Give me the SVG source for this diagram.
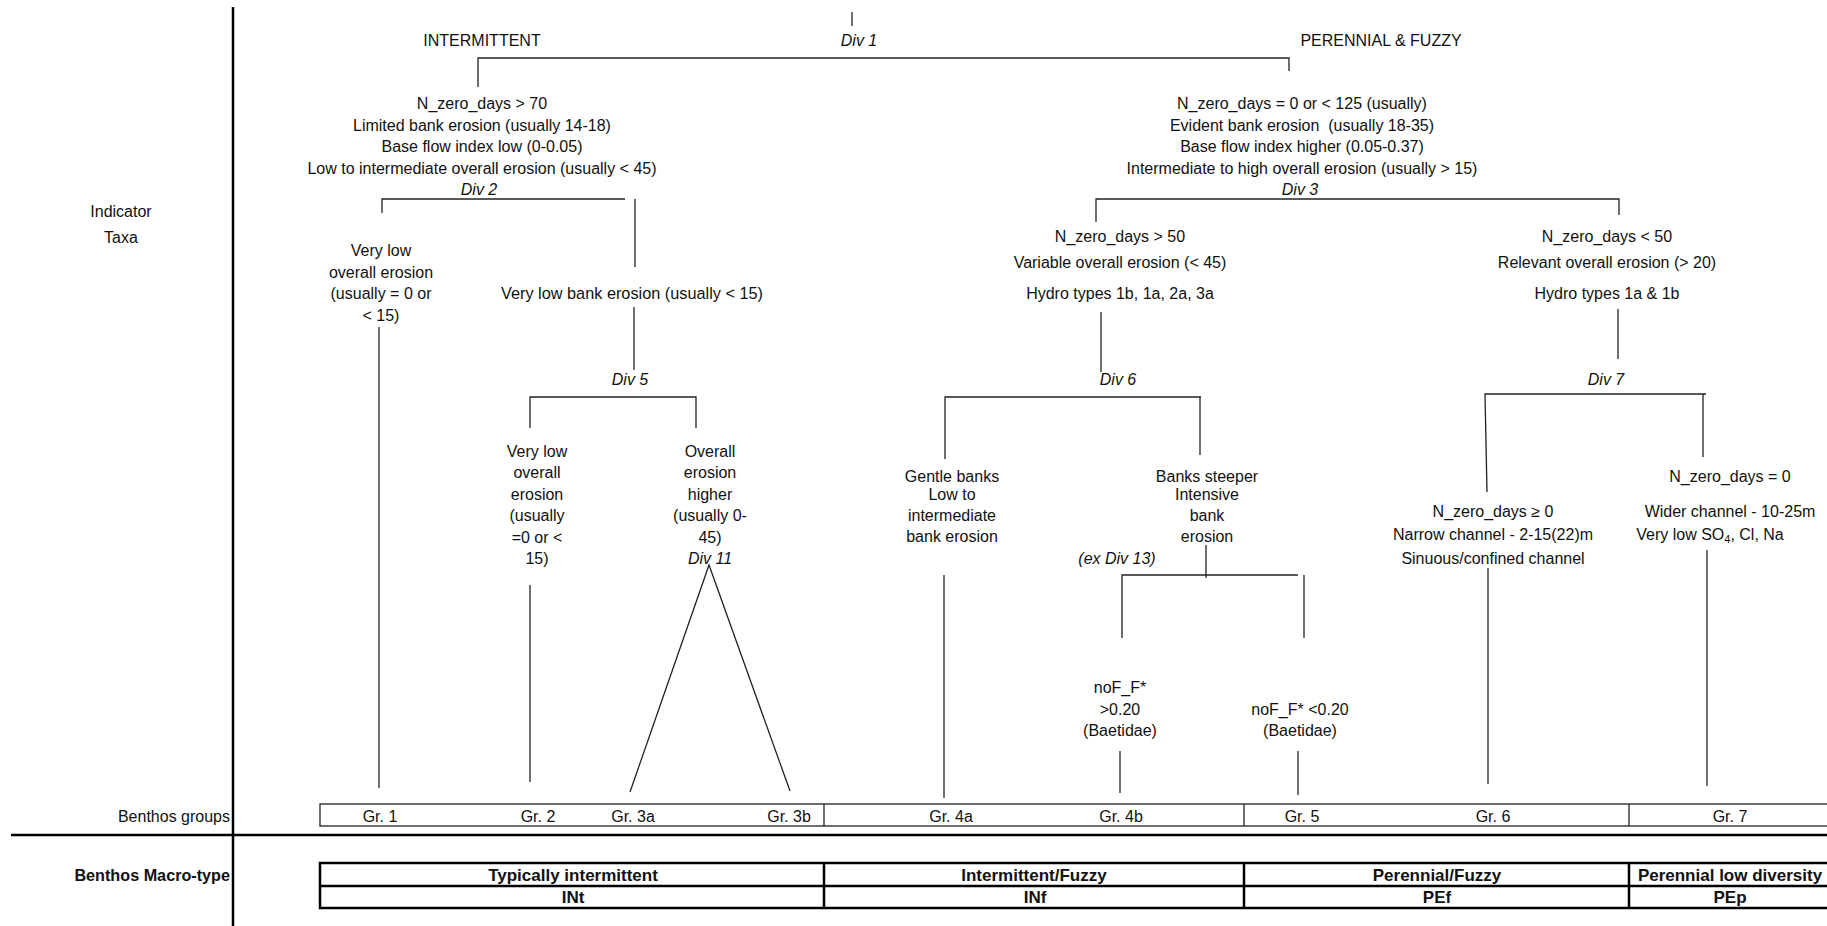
<svg xmlns="http://www.w3.org/2000/svg" width="1827" height="926" viewBox="0 0 1827 926">
<style>
text{font-family:"Liberation Sans",Arial,sans-serif;font-size:16px;fill:#111;text-anchor:middle}
.i{font-style:italic}
.b{font-weight:bold;font-size:17px}
.e{text-anchor:end}
.c{fill:none;stroke:#222;stroke-width:1.3}
.frame{fill:none;stroke:#000;stroke-width:2.5}
.box{fill:none;stroke:#222;stroke-width:1.3}
.tbl{fill:none;stroke:#000;stroke-width:2.5}
</style>
<rect width="1827" height="926" fill="#fff"/>
<g id="frame">
<path class="frame" d="M233,7V926" stroke-width="2"/>
<path class="frame" d="M11,835H1827"/>
</g>
<g id="labels">
<text x="121" y="217">Indicator</text>
<text x="121" y="242.5">Taxa</text>
<text class="e" x="230" y="821.5">Benthos groups</text>
<text class="b e" x="230" y="881" style="font-size:16.2px">Benthos Macro-type</text>
</g>
<g id="connectors">
<path class="c" d="M852,12V26"/>
<path class="c" d="M478,87V58H1289V71"/>
<path class="c" d="M382,213V199H625"/>
<path class="c" d="M635,199V267"/>
<path class="c" d="M379,327V788"/>
<path class="c" d="M634,307V370"/>
<path class="c" d="M530,428V397H696V428"/>
<path class="c" d="M530,585V782"/>
<path class="c" d="M630,792L709,565L790,791"/>
<path class="c" d="M1096,222V199H1619V215"/>
<path class="c" d="M1101,312V372"/>
<path class="c" d="M945,459V397H1201"/>
<path class="c" d="M1200,397V455"/>
<path class="c" d="M944,575V798"/>
<path class="c" d="M1206,545V578"/>
<path class="c" d="M1122,638V575H1298"/>
<path class="c" d="M1304,575V638"/>
<path class="c" d="M1120,751V793"/>
<path class="c" d="M1298,751V795"/>
<path class="c" d="M1618,309V359"/>
<path class="c" d="M1487,492L1485,394H1706"/>
<path class="c" d="M1703,394V457"/>
<path class="c" d="M1488,568V784"/>
<path class="c" d="M1707,550V786"/>
</g>
<g id="div1">
<text x="482" y="45.5">INTERMITTENT</text>
<text class="i" x="859" y="45.5">Div 1</text>
<text x="1381" y="45.5">PERENNIAL &amp; FUZZY</text>
</g>
<g id="div2">
<text x="482" y="109">N_zero_days &gt; 70</text>
<text x="482" y="130.5">Limited bank erosion (usually 14-18)</text>
<text x="482" y="152">Base flow index low (0-0.05)</text>
<text x="482" y="173.5">Low to intermediate overall erosion (usually &lt; 45)</text>
<text class="i" x="479" y="195">Div 2</text>
</g>
<g id="div3">
<text x="1302" y="109">N_zero_days = 0 or &lt; 125 (usually)</text>
<text x="1302" y="130.5" xml:space="preserve">Evident bank erosion  (usually 18-35)</text>
<text x="1302" y="152">Base flow index higher (0.05-0.37)</text>
<text x="1302" y="173.5">Intermediate to high overall erosion (usually &gt; 15)</text>
<text class="i" x="1300" y="195">Div 3</text>
</g>
<g id="very-low-overall">
<text x="381" y="255.5">Very low</text>
<text x="381" y="277.5">overall erosion</text>
<text x="381" y="298.5">(usually = 0 or</text>
<text x="381" y="320.5">&lt; 15)</text>
</g>
<g id="very-low-bank">
<text x="632" y="298.5" style="font-size:16.3px">Very low bank erosion (usually &lt; 15)</text>
<text class="i" x="630" y="384.5">Div 5</text>
</g>
<g id="div6-node">
<text x="1120" y="241.5">N_zero_days &gt; 50</text>
<text x="1120" y="267.5">Variable overall erosion (&lt; 45)</text>
<text x="1120" y="298.5">Hydro types 1b, 1a, 2a, 3a</text>
<text class="i" x="1118" y="384.5">Div 6</text>
</g>
<g id="div7-node">
<text x="1607" y="241.5">N_zero_days &lt; 50</text>
<text x="1607" y="267.5">Relevant overall erosion (&gt; 20)</text>
<text x="1607" y="298.5">Hydro types 1a &amp; 1b</text>
<text class="i" x="1606" y="384.5">Div 7</text>
</g>
<g id="gr2-node">
<text x="537" y="456.5">Very low</text>
<text x="537" y="478">overall</text>
<text x="537" y="499.5">erosion</text>
<text x="537" y="521">(usually</text>
<text x="537" y="542.5">=0 or &lt;</text>
<text x="537" y="563.5">15)</text>
</g>
<g id="div11-node">
<text x="710" y="456.5">Overall</text>
<text x="710" y="478">erosion</text>
<text x="710" y="499.5">higher</text>
<text x="710" y="521">(usually 0-</text>
<text x="710" y="542.5">45)</text>
<text class="i" x="710" y="563.5">Div 11</text>
</g>
<g id="gentle-banks">
<text x="952" y="482">Gentle banks</text>
<text x="952" y="499.5">Low to</text>
<text x="952" y="521">intermediate</text>
<text x="952" y="542">bank erosion</text>
</g>
<g id="banks-steeper">
<text x="1207" y="482">Banks steeper</text>
<text x="1207" y="499.5">Intensive</text>
<text x="1207" y="521">bank</text>
<text x="1207" y="542">erosion</text>
<text class="i" x="1117" y="563.5">(ex Div 13)</text>
</g>
<g id="nof-high">
<text x="1120" y="693">noF_F*</text>
<text x="1120" y="714.5">&gt;0.20</text>
<text x="1120" y="736">(Baetidae)</text>
</g>
<g id="nof-low">
<text x="1300" y="714.5">noF_F* &lt;0.20</text>
<text x="1300" y="736">(Baetidae)</text>
</g>
<g id="gr6-node">
<text x="1493" y="516.5">N_zero_days ≥ 0</text>
<text x="1493" y="539.5">Narrow channel - 2-15(22)m</text>
<text x="1493" y="563.5">Sinuous/confined channel</text>
</g>
<g id="gr7-node">
<text x="1730" y="481.5">N_zero_days = 0</text>
<text x="1730" y="516.5">Wider channel - 10-25m</text>
<text x="1710" y="539.5">Very low SO<tspan font-size="11" dy="3">4</tspan><tspan dy="-3">, Cl, Na</tspan></text>
</g>
<g id="benthos-groups">
<rect class="box" x="320" y="804" width="1530" height="22"/>
<path class="box" d="M824,804V826M1244,804V826M1629,804V826"/>
<text x="380" y="821.5">Gr. 1</text>
<text x="538" y="821.5">Gr. 2</text>
<text x="633" y="821.5">Gr. 3a</text>
<text x="789" y="821.5">Gr. 3b</text>
<text x="951" y="821.5">Gr. 4a</text>
<text x="1121" y="821.5">Gr. 4b</text>
<text x="1302" y="821.5">Gr. 5</text>
<text x="1493" y="821.5">Gr. 6</text>
<text x="1730" y="821.5">Gr. 7</text>
</g>
<g id="macro-types">
<rect class="tbl" x="320" y="863" width="1530" height="45"/>
<path class="tbl" d="M320,886H1827M824,863V908M1244,863V908M1629,863V908"/>
<text class="b" x="573" y="881">Typically intermittent</text>
<text class="b" x="1034" y="881">Intermittent/Fuzzy</text>
<text class="b" x="1437" y="881">Perennial/Fuzzy</text>
<text class="b" x="1730" y="881">Perennial low diversity</text>
<text class="b" x="573" y="903">INt</text>
<text class="b" x="1035" y="903">INf</text>
<text class="b" x="1437" y="903">PEf</text>
<text class="b" x="1730" y="903">PEp</text>
</g>
</svg>
